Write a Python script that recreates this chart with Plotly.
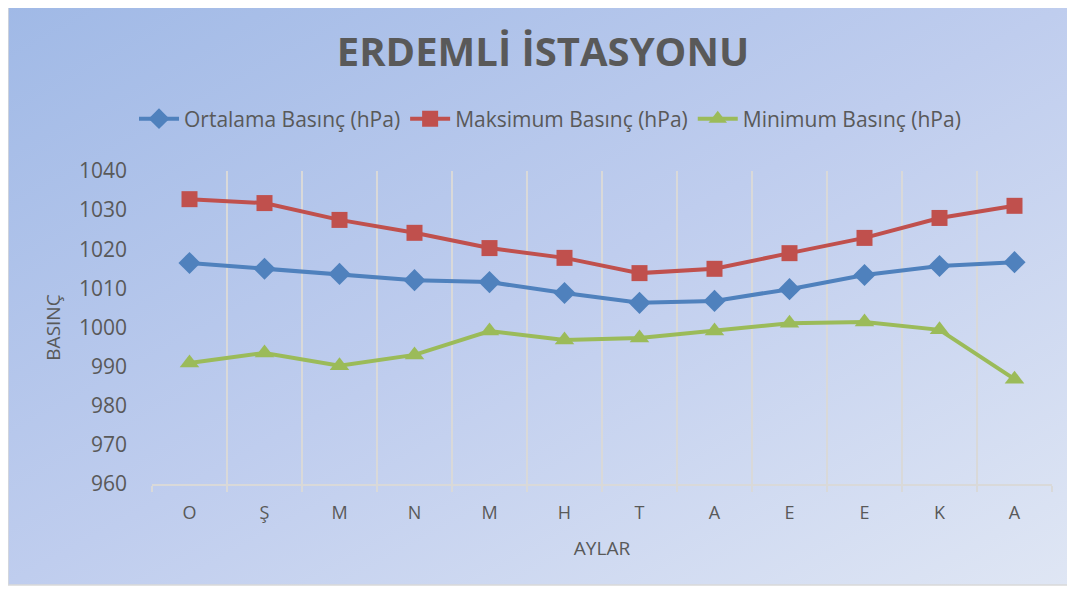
import base64
import plotly.graph_objects as go

months = ["O", "Ş", "M", "N", "M", "H", "T", "A", "E", "E", "K", "A"]
ortalama = [1016.5, 1015.0, 1013.7, 1012.1, 1011.6, 1008.8, 1006.3, 1006.8, 1009.8, 1013.4, 1015.7, 1016.7]
maksimum = [1032.8, 1031.8, 1027.5, 1024.2, 1020.3, 1017.8, 1013.9, 1015.0, 1019.0, 1022.9, 1028.0, 1031.1]
minimum = [990.9, 993.5, 990.2, 993.0, 999.1, 996.8, 997.3, 999.1, 1001.1, 1001.4, 999.4, 986.8]
series_names = ["Ortalama Basınç (hPa)", "Maksimum Basınç (hPa)", "Minimum Basınç (hPa)"]

x = list(range(len(months)))
FONT = "Open Sans"
GRAY = "#595959"

fig = go.Figure()
styles = [
    (ortalama, "#4f81bd", "diamond", 17),
    (maksimum, "#c0504d", "square", 16),
    (minimum, "#9bbb59", "triangle-up", 17),
]
for name, (vals, col, sym, sz) in zip(series_names, styles):
    fig.add_trace(go.Scatter(
        x=x, y=vals, name=name, mode="lines+markers",
        line=dict(color=col, width=4),
        marker=dict(symbol=sym, size=sz, color=col),
    ))

svg = """<svg xmlns='http://www.w3.org/2000/svg' width='1060' height='580'>
<defs><linearGradient id='g' x1='0' y1='0' x2='1' y2='1'>
<stop offset='0' stop-color='#a0b9e6'/><stop offset='0.5' stop-color='#bfcdee'/>
<stop offset='1' stop-color='#dfe6f4'/></linearGradient></defs>
<rect width='1060' height='580' fill='url(#g)'/></svg>"""
src = "data:image/svg+xml;base64," + base64.b64encode(svg.encode()).decode()

# the page places the figure 8px right/down, so work in (reference px - 8)
OFF = 8
W, H = 1075, 589
L, R, T, B = 152 - OFF, 23 + OFF, 171 - OFF, 105 + OFF
pw, ph = W - L - R, H - T - B

def px(xp):
    return (xp - OFF - L) / pw

def py(yp):
    return (H - B - (yp - OFF)) / ph

fig.add_layout_image(dict(
    source=src, xref="paper", yref="paper",
    x=px(8), y=py(5), sizex=1060 / pw, sizey=580 / ph,
    sizing="stretch", layer="below", xanchor="left", yanchor="top",
))
fig.add_shape(type="rect", xref="paper", yref="paper",
              x0=px(8), x1=px(1068), y0=py(585), y1=py(5),
              line=dict(color="#d9d9d9", width=1.5), layer="below")

fig.update_layout(
    width=W, height=H,
    margin=dict(l=L, r=R, t=T, b=B, autoexpand=False),
    paper_bgcolor="white",
    plot_bgcolor="rgba(0,0,0,0)",
    font=dict(family=FONT, color=GRAY),
    title=dict(text="<b>ERDEMLİ İSTASYONU</b>", x=(543 - OFF) / W, xanchor="center",
               y=1 - (52 - OFF) / H, yanchor="middle",
               font=dict(family=FONT, size=40, color=GRAY)),
    legend=dict(orientation="h", x=px(550), xanchor="center", y=py(119), yanchor="middle",
                font=dict(family=FONT, size=21, color=GRAY), bgcolor="rgba(0,0,0,0)",
                itemwidth=40, tracegroupgap=0),
    xaxis=dict(
        automargin=False,
        range=[-0.5, len(months) - 0.5], tickmode="array", tickvals=x, ticktext=months,
        showgrid=False, zeroline=False, showline=True, linecolor="#d9d9d9", linewidth=2,
        ticks="", tickfont=dict(size=18, color=GRAY), ticklabelstandoff=11,
        minor=dict(tick0=-0.5, dtick=1, showgrid=True, gridcolor="#d9d9d9", gridwidth=2,
                   ticks="outside", ticklen=6, tickcolor="#d9d9d9", tickwidth=2),
        title=dict(text="AYLAR", font=dict(size=19, color=GRAY), standoff=19),
    ),
    yaxis=dict(
        automargin=False,
        range=[960, 1040], dtick=10, showgrid=False, zeroline=False, showline=False,
        ticks="", tickfont=dict(size=21, color=GRAY), ticklabelstandoff=24,
        title=dict(text="BASINÇ", font=dict(size=19, color=GRAY), standoff=13),
    ),
)

fig.write_html("out.html")
